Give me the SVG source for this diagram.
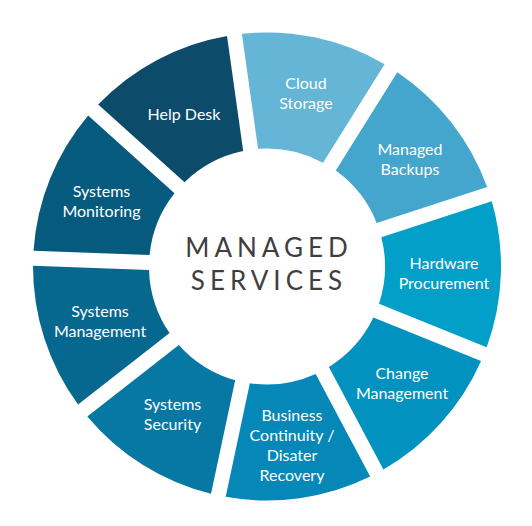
<svg xmlns="http://www.w3.org/2000/svg" width="532" height="526" viewBox="0 0 532 526">
<style>
.lbl{font-family:Lato,"Open Sans","Liberation Sans",sans-serif;font-size:16px;fill:#ffffff;text-anchor:middle}
.ttl{font-family:Lato,"Open Sans","Liberation Sans",sans-serif;font-size:26px;fill:#413e3e;text-anchor:middle;letter-spacing:5px}
</style>
<rect width="532" height="526" fill="#ffffff"/>
<g id="cloud-storage">
<path d="M241.88,33.85 A234,234 0 0 1 384.58,64.18 L323.05,162.66 A118,118 0 0 0 258.04,148.84 Z" fill="#64b5d6"/>
<text class="lbl" x="306" y="89">Cloud</text>
<text class="lbl" x="306" y="109">Storage</text>
</g>
<g id="managed-backups">
<path d="M397.31,72.14 A234,234 0 0 1 487.12,187.09 L376.68,222.98 A118,118 0 0 0 335.77,170.61 Z" fill="#45a6cd"/>
<text class="lbl" x="410" y="155">Managed</text>
<text class="lbl" x="410" y="175">Backups</text>
</g>
<g id="hardware-procurement">
<path d="M491.75,201.36 A234,234 0 0 1 486.66,347.16 L378.99,303.66 A118,118 0 0 0 381.31,237.24 Z" fill="#02a0c8"/>
<text class="lbl" x="444" y="269">Hardware</text>
<text class="lbl" x="444" y="289">Procurement</text>
</g>
<g id="change-management">
<path d="M481.04,361.07 A234,234 0 0 1 383.42,469.49 L328.90,366.96 A118,118 0 0 0 373.38,317.57 Z" fill="#0292bf"/>
<text class="lbl" x="402" y="379">Change</text>
<text class="lbl" x="402" y="399">Management</text>
</g>
<g id="business-continuity">
<path d="M370.18,476.52 A234,234 0 0 1 225.70,496.83 L249.85,383.25 A118,118 0 0 0 315.67,374.00 Z" fill="#0587b8"/>
<text class="lbl" x="292" y="421">Business</text>
<text class="lbl" x="292" y="441">Continuity /</text>
<text class="lbl" x="292" y="461">Disater</text>
<text class="lbl" x="292" y="481">Recovery</text>
</g>
<g id="systems-security">
<path d="M211.03,493.71 A234,234 0 0 1 87.32,416.40 L178.82,344.91 A118,118 0 0 0 235.18,380.13 Z" fill="#0678a3"/>
<text class="lbl" x="172.5" y="410">Systems</text>
<text class="lbl" x="172.5" y="430">Security</text>
</g>
<g id="systems-management">
<path d="M78.08,404.58 A234,234 0 0 1 33.00,265.83 L149.05,269.89 A118,118 0 0 0 169.58,333.09 Z" fill="#06688f"/>
<text class="lbl" x="100" y="317">Systems</text>
<text class="lbl" x="100" y="337">Management</text>
</g>
<g id="systems-monitoring">
<path d="M33.52,250.84 A234,234 0 0 1 88.17,115.58 L174.47,193.27 A118,118 0 0 0 149.57,254.89 Z" fill="#055a7d"/>
<text class="lbl" x="101.5" y="197">Systems</text>
<text class="lbl" x="101.5" y="217">Monitoring</text>
</g>
<g id="help-desk">
<path d="M98.21,104.43 A234,234 0 0 1 227.02,35.94 L243.18,150.93 A118,118 0 0 0 184.51,182.13 Z" fill="#0c4c6a"/>
<text class="lbl" x="184" y="120">Help Desk</text>
</g>
<g id="center">
<text class="ttl" x="269" y="257">MANAGED</text>
<text class="ttl" x="269" y="290">SERVICES</text>
</g>
<g id="connectors"/>
</svg>
